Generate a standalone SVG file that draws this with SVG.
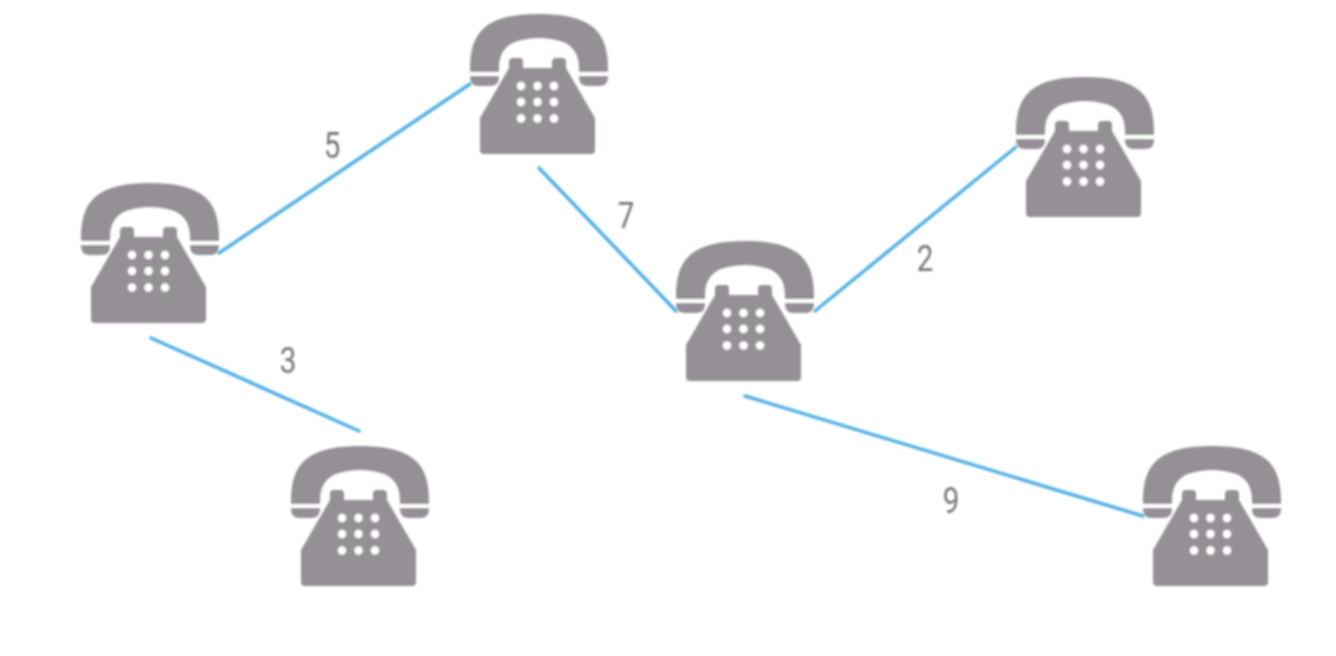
<svg xmlns="http://www.w3.org/2000/svg" width="1336" height="656" viewBox="0 0 1336 656">
<style>
.link{stroke:#52b0e6;stroke-width:3.500;fill:none;stroke-linecap:round}
.num{font-family:"Roboto","Liberation Sans",sans-serif;font-size:37px;fill:#77767a;text-anchor:middle}
.ph{fill:#949095}
.soft{filter:url(#soft)}
</style>
<defs>
<filter id="soft" filterUnits="userSpaceOnUse" x="0" y="0" width="1336" height="656"><feGaussianBlur stdDeviation="0.8"/></filter>
<g id="phone">
<path class="ph" d="M0 56C0 38 3 24 14 14C27 3 46 0 69 0C92 0 111 3 124 14C135 24 138 38 138 56V63Q138 72 129 72H118Q109 72 109 63V54C109 38 101 30 90 27C83 25 76 24 69 24C62 24 55 25 48 27C37 30 29 38 29 54V63Q29 72 20 72H9Q0 72 0 63Z"/>
<rect x="-1" y="58" width="31" height="4" fill="#fff"/>
<rect x="108" y="58" width="31" height="4" fill="#fff"/>
<path class="ph" d="M39 54V48Q39 44 43 44H50Q53 44 53 48V54H82V48Q82 44 86 44H92Q96 44 96 48V54L125 104V136Q125 140 121 140H14Q10 140 10 136V104Z"/>
<g fill="#fff">
<circle cx="51" cy="72" r="4.200"/><circle cx="67.500" cy="72" r="4.200"/><circle cx="84" cy="72" r="4.200"/>
<circle cx="51" cy="88" r="4.200"/><circle cx="67.500" cy="88" r="4.200"/><circle cx="84" cy="88" r="4.200"/>
<circle cx="51" cy="104.500" r="4.200"/><circle cx="67.500" cy="104.500" r="4.200"/><circle cx="84" cy="104.500" r="4.200"/>
</g>
</g>
</defs>
<rect width="1336" height="656" fill="#fff"/>
<g id="connectors" class="soft">
<line class="link" x1="219" y1="253" x2="470" y2="84"/>
<line class="link" x1="539" y1="168" x2="676" y2="311"/>
<line class="link" x1="815" y1="311" x2="1016" y2="147"/>
<line class="link" x1="151" y1="338" x2="359" y2="431"/>
<line class="link" x1="745" y1="396" x2="1143" y2="516"/>
</g>
<g id="phone-a" class="soft"><use href="#phone" x="81" y="183"/></g>
<g id="phone-b" class="soft"><use href="#phone" x="470" y="14"/></g>
<g id="phone-c" class="soft"><use href="#phone" x="1016" y="77"/></g>
<g id="phone-d" class="soft"><use href="#phone" x="676" y="241"/></g>
<g id="phone-e" class="soft"><use href="#phone" x="291" y="446"/></g>
<g id="phone-f" class="soft"><use href="#phone" x="1143" y="446"/></g>
<g id="labels" class="soft">
<text class="num" transform="translate(332 158) scale(.8 1)">5</text>
<text class="num" transform="translate(626 228) scale(.8 1)">7</text>
<text class="num" transform="translate(925 271) scale(.8 1)">2</text>
<text class="num" transform="translate(288 373) scale(.8 1)">3</text>
<text class="num" transform="translate(951 513) scale(.8 1)">9</text>
</g>
</svg>
